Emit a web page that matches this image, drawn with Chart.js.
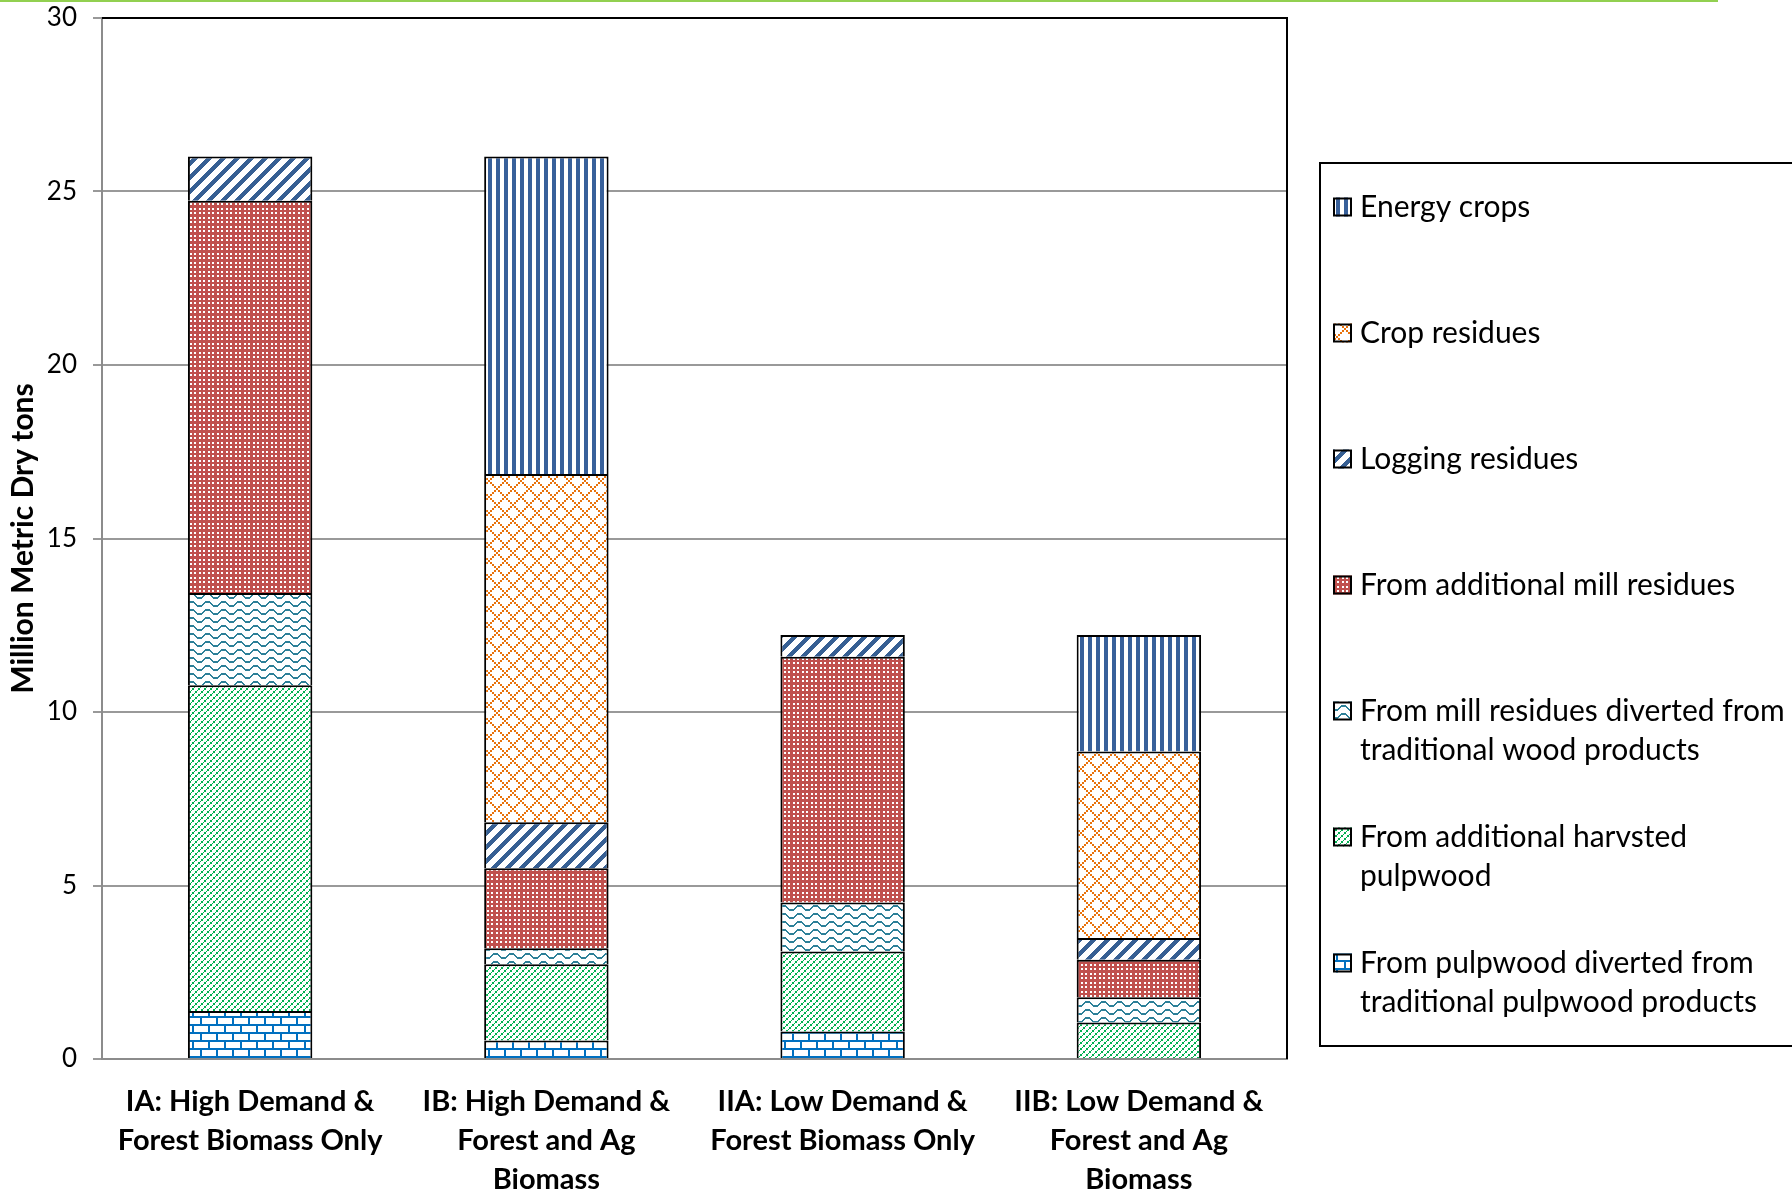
<!DOCTYPE html>
<html><head><meta charset="utf-8">
<script src="https://cdn.jsdelivr.net/npm/chart.js@4"></script>
<style>html,body{margin:0;padding:0;background:#fff;}</style>
</head><body>
<canvas id="c" width="1792" height="1192"></canvas>
<script>
// ---- data ----
const categories = [
  ["IA: High Demand &", "Forest Biomass Only"],
  ["IB: High Demand &", "Forest and Ag", "Biomass"],
  ["IIA: Low Demand &", "Forest Biomass Only"],
  ["IIB: Low Demand &", "Forest and Ag", "Biomass"]
];
const pulpwoodDiverted  = [1.38, 0.53, 0.79, 0];
const harvestedPulpwood = [9.39, 2.20, 2.31, 1.05];
const millDiverted      = [2.66, 0.46, 1.41, 0.73];
const additionalMill    = [11.30, 2.31, 7.08, 1.08];
const loggingResidues   = [1.28, 1.32, 0.63, 0.63];
const cropResidues      = [0, 10.04, 0, 5.37];
const energyCrops       = [0, 9.15, 0, 3.36];
const yTicks = [0, 5, 10, 15, 20, 25, 30];
const yTitle = "Million Metric Dry tons";
const seriesLines = {
  pulp: ["From pulpwood diverted from", "traditional pulpwood products"],
  harv: ["From additional harvsted", "pulpwood"],
  milld: ["From mill residues diverted from", "traditional wood products"],
  mill: ["From additional mill residues"],
  log: ["Logging residues"],
  crop: ["Crop residues"],
  energy: ["Energy crops"]
};

// ---- patterns ----
function tile(w, h, draw) {
  const c = document.createElement('canvas'); c.width = w; c.height = h;
  const g = c.getContext('2d'); g.fillStyle = '#fff'; g.fillRect(0, 0, w, h); draw(g);
  return c;
}
const tiles = {
  energy: tile(8, 8, g => { g.fillStyle = '#38609a'; g.fillRect(0, 0, 4, 8); }),
  crop: tile(16, 16, g => {
    g.fillStyle = '#e8720c';
    for (let x = 0; x < 16; x += 2) {
      g.fillRect(x, ((8 - x) % 16 + 16) % 16, 2, 2);
      g.fillRect(x, (x + 8) % 16, 2, 2);
    }
  }),
  log: tile(14, 14, g => {
    g.fillStyle = '#365f93';
    for (let x = 0; x < 14; x++) for (let y = 0; y < 14; y++) if ((x + y) % 14 < 6) g.fillRect(x, y, 1, 1);
  }),
  mill: tile(9, 9, g => {
    g.fillStyle = '#c0504d'; g.fillRect(0, 0, 9, 9); g.fillStyle = '#fff';
    g.fillRect(1, 1, 2, 2); g.fillRect(5, 1, 2, 2); g.fillRect(1, 5, 2, 2); g.fillRect(5, 5, 2, 2);
  }),
  milld: tile(16, 8, g => {
    g.fillStyle = '#2d8098';
    const off = [0,0,1,2,3,4,4,4,4,4,3,2,1,0,0,0];
    for (let x = 0; x < 16; x++) g.fillRect(x, off[x] + 1, 1, 2);
  }),
  harv: tile(6, 6, g => {
    g.fillStyle = '#00b050';
    g.fillRect(0, 4, 2, 2); g.fillRect(2, 3, 1, 1); g.fillRect(3, 1, 2, 2); g.fillRect(5, 0, 1, 1);
  }),
  pulp: tile(16, 16, g => {
    g.fillStyle = '#0070c0';
    g.fillRect(0, 0, 16, 2); g.fillRect(0, 8, 16, 2);
    g.fillRect(0, 2, 2, 6); g.fillRect(8, 10, 2, 6);
  })
};
const canvas = document.getElementById('c');
const ctx = canvas.getContext('2d');
const pat = {};
for (const k in tiles) pat[k] = ctx.createPattern(tiles[k], 'repeat');

const FONT = 'Lato, "Open Sans", sans-serif';

function ds(key, data) {
  return { label: seriesLines[key].join(' '), data: data, backgroundColor: pat[key],
           borderColor: '#000', borderWidth: 2, key: key };
}
const datasets = [
  ds('pulp', pulpwoodDiverted), ds('harv', harvestedPulpwood), ds('milld', millDiverted),
  ds('mill', additionalMill), ds('log', loggingResidues), ds('crop', cropResidues), ds('energy', energyCrops)
];

const decor = {
  id: 'decor',
  beforeDraw(chart) {
    const c = chart.ctx; c.save();
    c.fillStyle = '#fff'; c.fillRect(0, 0, chart.width, chart.height);
    c.fillStyle = '#92d050'; c.fillRect(0, 0, 1718, 2);
    c.restore();
  },
  afterDraw(chart) {
    const c = chart.ctx, a = chart.chartArea;
    c.save();
    c.strokeStyle = '#000'; c.lineWidth = 2;
    c.beginPath(); c.moveTo(a.left, a.top); c.lineTo(a.right, a.top); c.lineTo(a.right, a.bottom); c.stroke();
    c.translate(23, (a.top + a.bottom) / 2); c.rotate(-Math.PI / 2);
    c.font = 'bold 30px ' + FONT; c.fillStyle = '#000'; c.textAlign = 'center'; c.textBaseline = 'middle';
    c.fillText(yTitle, 0, 0);
    c.setTransform(1, 0, 0, 1, 0, 0);
    c.lineWidth = 2; c.strokeStyle = '#000';
    c.strokeRect(1320, 163, 600, 883);
    const items = chart.data.datasets.slice().reverse();
    c.font = '30px ' + FONT; c.textAlign = 'left'; c.textBaseline = 'middle';
    items.forEach((d, i) => {
      const y = 207 + i * 126;
      c.fillStyle = d.backgroundColor; c.fillRect(1333, y - 9.5, 19, 19);
      c.strokeStyle = '#000'; c.lineWidth = 2; c.strokeRect(1334, y - 8.5, 17, 17);
      c.fillStyle = '#000';
      seriesLines[d.key].forEach((t, j) => c.fillText(t, 1360, y + j * 39));
    });
    c.restore();
  }
};

new Chart(ctx, {
  type: 'bar',
  data: { labels: categories, datasets: datasets },
  plugins: [decor],
  options: {
    responsive: false, animation: false,
    layout: { padding: { top: 18, right: 505, left: 0, bottom: 0 } },
    plugins: { legend: { display: false }, tooltip: { enabled: false } },
    datasets: { bar: { categoryPercentage: 1, barPercentage: 0.42 } },
    scales: {
      x: {
        stacked: true,
        grid: { display: false, drawTicks: false },
        border: { color: '#8c8c8c', width: 2 },
        ticks: { color: '#000', padding: 23, maxRotation: 0, autoSkip: false,
                 font: { family: FONT, size: 29, weight: 'bold', lineHeight: '39px' } },
        afterFit(s) { s.height = 133; s.paddingLeft = 0; s.paddingRight = 0; }
      },
      y: {
        stacked: true, min: 0, max: 30,
        afterBuildTicks(s) { s.ticks = yTicks.map(v => ({ value: v })); },
        grid: { color: '#999', lineWidth: 2, tickLength: 9 },
        border: { color: '#8c8c8c', width: 2 },
        ticks: { color: '#000', padding: 16, font: { family: FONT, size: 26 } },
        afterFit(s) { s.width = 102; s.paddingTop = 0; s.paddingBottom = 0; }
      }
    }
  }
});
</script>
</body></html>
